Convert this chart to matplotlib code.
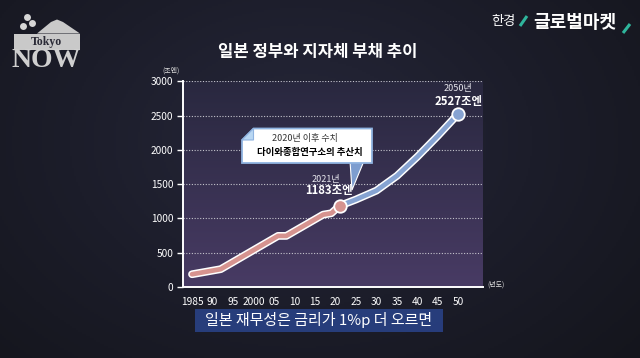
import numpy as np
import matplotlib.pyplot as plt
from matplotlib.patches import Polygon, Rectangle
from matplotlib.colors import LinearSegmentedColormap
import matplotlib.patheffects as pe

plt.rcParams['font.family'] = ['Noto Sans CJK KR', 'DejaVu Sans']

# Actual debt (trillion yen)
actual_years = [1985, 1992, 2006, 2008, 2017, 2019, 2021]
actual_debt = [186, 260, 745, 745, 1055, 1075, 1183]
# Daiwa Institute of Research estimate after 2020
proj_years = [2021, 2025, 2030, 2035, 2040, 2045, 2050]
proj_debt = [1183, 1275, 1405, 1620, 1900, 2205, 2527]

xtick_years = list(range(1985, 2051, 5))
xtick_labels = ['1985', '90', '95', '2000', '05', '10', '15', '20',
                '25', '30', '35', '40', '45', '50']
ytick_values = [0, 500, 1000, 1500, 2000, 2500, 3000]

PINK = '#d6938f'
BLUE = '#86a3d2'
W, H = 640, 358

fig = plt.figure(figsize=(6.4, 3.58), dpi=100)

# dark background with soft vignette
bg = fig.add_axes([0, 0, 1, 1], zorder=0)
yy, xx = np.mgrid[0:H:2, 0:W:2]
r = np.sqrt(((xx - 300) / 420.0) ** 2 + ((yy - 140) / 300.0) ** 2)
bg_cmap = LinearSegmentedColormap.from_list('bg', ['#26273a', '#1c1d2a', '#14151c'])
bg.imshow(r, cmap=bg_cmap, vmin=0, vmax=1.1, extent=[0, W, H, 0], aspect='auto')
bg.set_xlim(0, W)
bg.set_ylim(H, 0)
bg.axis('off')

# main chart
ax = fig.add_axes([183 / W, 1 - 287 / H, 300 / W, 206 / H], zorder=1)
ax.patch.set_alpha(0)
grad = np.linspace(0, 1, 200).reshape(-1, 1)
plot_cmap = LinearSegmentedColormap.from_list('plot', ['#29283f', '#483b64'])
ax.imshow(grad, cmap=plot_cmap, extent=[0, 1, 0, 1], aspect='auto',
          transform=ax.transAxes, zorder=0)

outline = [pe.Stroke(linewidth=5.6, foreground='white'), pe.Normal()]
ax.plot(proj_years, proj_debt, color=BLUE, lw=3.4, solid_capstyle='round',
        path_effects=outline, zorder=3)
ax.plot(actual_years, actual_debt, color=PINK, lw=3.4, solid_capstyle='round',
        solid_joinstyle='round', path_effects=outline, zorder=4)
ax.plot(proj_years[-1], proj_debt[-1], 'o', ms=9, color=BLUE, mec='white', mew=1.3, zorder=5)
ax.plot(actual_years[-1], actual_debt[-1], 'o', ms=9, color=PINK, mec='white', mew=1.3, zorder=5)

ax.set_xlim(1982.8, 2056.0)
ax.set_ylim(0, 3003)
ax.set_yticks(ytick_values)
ax.set_xticks(xtick_years)
ax.set_xticklabels(xtick_labels)
ax.yaxis.grid(True, linestyle=(0, (1, 1.5)), color='#c4c4cc', lw=0.8)
ax.set_axisbelow(True)
for s in ['top', 'right']:
    ax.spines[s].set_visible(False)
for s in ['left', 'bottom']:
    ax.spines[s].set_color('white')
    ax.spines[s].set_linewidth(1.4)
ax.tick_params(axis='y', colors='white', labelsize=7.3, length=4, width=1, pad=3)
ax.tick_params(axis='x', colors='white', labelsize=7.3, length=0, pad=7)

# point labels
ax.annotate('2021년', (actual_years[-1], actual_debt[-1]), xytext=(-10, 19),
            textcoords='offset points', ha='center', va='center', color='#e8e8ee', fontsize=6.5)
ax.annotate(f'{actual_debt[-1]}조엔', (actual_years[-1], actual_debt[-1]), xytext=(-8, 11),
            textcoords='offset points', ha='center', va='center', color='white',
            fontsize=8.2, fontweight='bold')
ax.annotate('2050년', (proj_years[-1], proj_debt[-1]), xytext=(0, 18),
            textcoords='offset points', ha='center', va='center', color='#e8e8ee', fontsize=6.5)
ax.annotate(f'{proj_debt[-1]}조엔', (proj_years[-1], proj_debt[-1]), xytext=(0, 9),
            textcoords='offset points', ha='center', va='center', color='white',
            fontsize=8.2, fontweight='bold')

# overlay in pixel coordinates for callout, logos and subtitle
ov = fig.add_axes([0, 0, 1, 1], zorder=2)
ov.set_xlim(0, W)
ov.set_ylim(H, 0)
ov.axis('off')
ov.patch.set_alpha(0)

ov.text(318, 52, '일본 정부와 지자체 부채 추이', ha='center', va='center',
        color='white', fontsize=12, fontweight='heavy')
ov.text(171, 71, '(조엔)', ha='center', va='center', color='#dddddd', fontsize=5)
ov.text(496, 285, '(년도)', ha='center', va='center', color='#dddddd', fontsize=5)

# callout box
ov.add_patch(Polygon([(350, 161), (364, 161), (352, 190)], closed=True,
                     facecolor='#7d9dcf', edgecolor='white', lw=0.8))
ov.add_patch(Polygon([(242, 140), (253.5, 128.5), (372, 128.5), (372, 163), (242, 163)],
                     closed=True, facecolor='white', edgecolor='#8fb3e0', lw=1.3))
ov.add_patch(Polygon([(242, 140), (253.5, 128.5), (253.5, 140)], closed=True,
                     facecolor='#b9d7f3', edgecolor='#8fb3e0', lw=0.8))
ov.text(305, 138.5, '2020년 이후 수치', ha='center', va='center', color='#333333', fontsize=6.5)
ov.text(310, 152.5, '다이와종합연구소의 추산치', ha='center', va='center', color='black',
        fontsize=6.8, fontweight='bold')

# subtitle
ov.add_patch(Rectangle((195, 309), 248, 23, facecolor='#283f80', edgecolor='none', alpha=0.95))
ov.text(319, 320.5, '일본 재무성은 금리가 1%p 더 오르면', ha='center', va='center',
        color='white', fontsize=10.8)

# Tokyo NOW logo
ov.add_patch(Polygon([(37, 33.5), (51, 22), (57, 19.5), (63, 22), (80, 33.5)], closed=True,
                     facecolor='#c9c9c9', edgecolor='none'))
ov.add_patch(Rectangle((13.5, 33.5), 66, 16.5, facecolor='#c9c9c9', edgecolor='none'))
for cx, cy in [(27, 17), (32, 23), (23, 26)]:
    ov.plot(cx, cy, 'o', ms=5, color='#d6d6d6', mec='none')
ov.text(46.5, 42, 'Tokyo', ha='center', va='center', color='#2a2a36',
        fontsize=8.5, fontweight='bold', family='Liberation Serif')
ov.text(46, 60.5, 'NOW', ha='center', va='center', color='#cfcfcf',
        fontsize=20, fontweight='bold', family='Liberation Serif')

# Hankyung global market logo
ov.text(503.5, 22, '한경', ha='center', va='center', color='white', fontsize=9.5)
ov.plot([520, 527], [26, 16], color='#2fb59c', lw=2.2, solid_capstyle='butt')
ov.text(575, 22, '글로벌마켓', ha='center', va='center', color='white',
        fontsize=13, fontweight='bold')
ov.plot([623, 630], [33, 24], color='#2fb59c', lw=2.2, solid_capstyle='butt')

fig.savefig('out.png', dpi=100)
